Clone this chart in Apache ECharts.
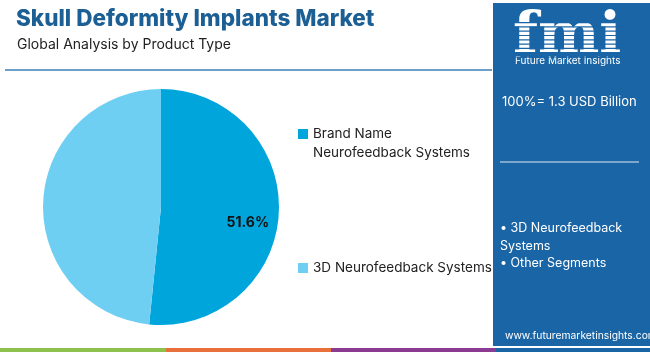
<!DOCTYPE html>
<html>
<head>
<meta charset="utf-8">
<script src="https://cdn.jsdelivr.net/npm/echarts@6/dist/echarts.min.js"></script>
<style>
  html, body { margin: 0; padding: 0; background: #fff; }
  #main { width: 650px; height: 352px; }
</style>
</head>
<body>
<div id="main"></div>
<script>
// product type shares (%)
var segments = ['Brand Name Neurofeedback Systems', '3D Neurofeedback Systems'];
var shares = [51.6, 48.4];
var colors = ['#00a5dc', '#6ecff3'];
var panelBullets = ['• 3D Neurofeedback', 'Systems', '• Other Segments'];

var font = 'Inter, "Noto Sans", sans-serif';
var panelBlue = '#1a65a6';

var myChart = echarts.init(document.getElementById('main'));

var pieData = segments.map(function (name, i) {
    return { name: name, value: shares[i], itemStyle: { color: colors[i] } };
});

function legendFor(name, top) {
    return {
        orient: 'vertical',
        left: 298,
        top: top,
        padding: 0,
        icon: 'rect',
        itemWidth: 10,
        itemHeight: 10,
        itemGap: 0,
        selectedMode: false,
        data: [name],
        // leading blank line keeps the icon level with the first text line
        formatter: function (n) {
            return n === segments[0] ? '\nBrand Name\nNeurofeedback Systems' : n;
        },
        textStyle: {
            fontFamily: font,
            fontSize: 13.5,
            color: '#222',
            lineHeight: 19
        }
    };
}

var graphics = [
    // header rule
    { type: 'line', shape: { x1: 5, y1: 70, x2: 492, y2: 70 }, style: { stroke: '#3d7fb6', lineWidth: 1.5 } },
    // right panel
    { type: 'rect', shape: { x: 493, y: 3, width: 157, height: 343 }, style: { fill: panelBlue } },
    { type: 'text', left: 513, top: 9, style: { text: 'fmi', fill: '#fff', font: 'bold 58px "DejaVu Serif", serif' } },
    { type: 'text', left: 515, top: 56, style: { text: 'Future Market Insights', fill: '#fff', font: '10px ' + font } },
    { type: 'text', left: 502, top: 96, style: { text: '100%= 1.3 USD Billion', fill: '#fff', font: '13px ' + font } },
    { type: 'line', shape: { x1: 500, y1: 162, x2: 639, y2: 162 }, style: { stroke: '#dfe9f3', lineWidth: 1.2 } },
    { type: 'text', left: 500, top: 220, style: { text: panelBullets.join('\n'), fill: '#fff', font: '12.5px ' + font, lineHeight: 17.3 } },
    { type: 'text', left: 505, top: 331, style: { text: 'www.futuremarketinsights.com', fill: '#fff', font: '10.3px ' + font } },
    // bottom colour bar
    { type: 'rect', shape: { x: 0, y: 348, width: 166, height: 4 }, style: { fill: '#8cc14c' } },
    { type: 'rect', shape: { x: 166, y: 348, width: 165, height: 4 }, style: { fill: '#e8703a' } },
    { type: 'rect', shape: { x: 331, y: 348, width: 165, height: 4 }, style: { fill: '#8c3b93' } },
    { type: 'rect', shape: { x: 496, y: 348, width: 154, height: 4 }, style: { fill: panelBlue } }
];
// stripes across the logo letters
for (var s = 0; s < 9; s++) {
    graphics.push({ type: 'rect', shape: { x: 510, y: 22 + s * 4.3, width: 118, height: 1.2 }, style: { fill: panelBlue } });
}

var option = {
    animation: false,
    title: [
        { text: 'Skull Deformity Implants Market', left: 11, top: 3,
          textStyle: { fontFamily: font, fontSize: 22.5, fontWeight: 800, color: '#1b5f94' } },
        { text: 'Global Analysis by Product Type', left: 12, top: 33,
          textStyle: { fontFamily: font, fontSize: 14, fontWeight: 'normal', color: '#222' } }
    ],
    legend: [
        legendFor(segments[0], 105.5),
        legendFor(segments[1], 258.5)
    ],
    graphic: graphics,
    series: [
        {
            type: 'pie',
            center: [161, 207],
            radius: 118,
            startAngle: 90,
            clockwise: true,
            silent: true,
            label: { show: false },
            data: pieData
        },
        {
            // label carrier, placed at the outer part of the slice
            type: 'pie',
            center: [161, 207],
            radius: [50, 118],
            startAngle: 90,
            clockwise: true,
            silent: true,
            legendHoverLink: false,
            itemStyle: { color: 'transparent' },
            label: {
                show: true,
                position: 'inside',
                fontFamily: font,
                fontSize: 14,
                fontWeight: 'bold',
                color: '#111',
                lineHeight: 22,
                formatter: function (p) { return p.dataIndex === 0 ? '\n' + p.value.toFixed(1) + '%' : ''; }
            },
            data: segments.map(function (name, i) { return { name: name + ' ', value: shares[i] }; })
        }
    ]
};
myChart.setOption(option);
</script>
</body>
</html>
